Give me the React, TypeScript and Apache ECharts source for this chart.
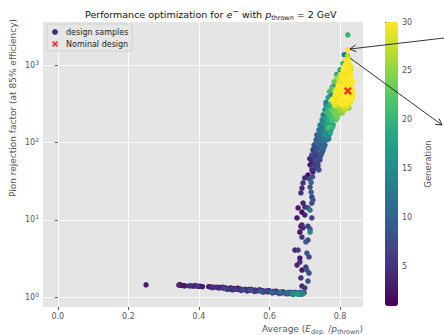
import React, { useEffect, useRef } from "react";
import * as echarts from "echarts";

// ---- data (x = average E_dep/p_thrown, y = pion rejection factor, gen = generation) ----
const tailPts: number[][] = [
  [0.25, 1.45, 3],
  [0.343, 1.44, 4], [0.348, 1.43, 2], [0.355, 1.42, 3], [0.372, 1.41, 5], [0.378, 1.41, 4], [0.385, 1.4, 3], [0.396, 1.39, 6], [0.402, 1.39, 2],
  [0.428, 1.37, 2], [0.434, 1.36, 4], [0.442, 1.35, 4], [0.45, 1.35, 5], [0.458, 1.34, 3], [0.463, 1.33, 2], [0.47, 1.31, 7], [0.474, 1.33, 4],
  [0.478, 1.3, 4], [0.485, 1.29, 2], [0.489, 1.32, 3], [0.492, 1.28, 5], [0.498, 1.3, 2], [0.503, 1.27, 6], [0.508, 1.29, 3], [0.513, 1.26, 4],
  [0.518, 1.28, 5], [0.524, 1.25, 7], [0.53, 1.27, 4], [0.534, 1.24, 5], [0.54, 1.26, 3], [0.545, 1.23, 8], [0.55, 1.25, 6], [0.555, 1.22, 4],
  [0.56, 1.24, 3], [0.565, 1.21, 6], [0.57, 1.23, 5], [0.575, 1.2, 9], [0.58, 1.22, 4], [0.585, 1.19, 7], [0.59, 1.21, 5], [0.595, 1.18, 4],
  [0.6, 1.2, 7], [0.605, 1.17, 10], [0.61, 1.19, 6], [0.615, 1.16, 8], [0.62, 1.18, 4], [0.625, 1.15, 5], [0.63, 1.17, 11], [0.635, 1.14, 7],
  [0.64, 1.16, 6], [0.645, 1.13, 9], [0.65, 1.15, 12], [0.655, 1.12, 6], [0.66, 1.14, 10], [0.664, 1.12, 14], [0.668, 1.15, 8], [0.672, 1.11, 15],
  [0.676, 1.13, 13], [0.68, 1.11, 16], [0.684, 1.14, 9], [0.688, 1.12, 11], [0.692, 1.14, 12], [0.695, 1.11, 14], [0.698, 1.15, 7],
  [0.346, 1.46, 3], [0.36, 1.41, 2], [0.39, 1.42, 4], [0.41, 1.37, 3], [0.438, 1.33, 5], [0.455, 1.32, 4], [0.467, 1.35, 3], [0.48, 1.27, 6],
  [0.495, 1.25, 3], [0.51, 1.31, 2], [0.52, 1.23, 5], [0.537, 1.21, 4], [0.548, 1.27, 2], [0.558, 1.19, 6], [0.572, 1.25, 3], [0.582, 1.17, 5],
  [0.598, 1.22, 4], [0.608, 1.14, 7], [0.618, 1.2, 3], [0.628, 1.12, 9], [0.638, 1.18, 5], [0.648, 1.11, 8], [0.658, 1.16, 4], [0.666, 1.09, 12],
  [0.674, 1.16, 6], [0.682, 1.09, 14], [0.69, 1.1, 13], [0.686, 1.16, 10],
];

const stemPts: number[][] = [
  [0.7, 1.32, 6], [0.692, 1.4, 4], [0.709, 1.62, 8], [0.689, 1.78, 5], [0.712, 2.06, 7], [0.692, 2.25, 3], [0.706, 2.25, 9], [0.703, 2.46, 6],
  [0.678, 2.61, 4], [0.686, 2.86, 5], [0.686, 3.22, 3], [0.712, 3.32, 7], [0.706, 3.73, 8], [0.681, 4.08, 6], [0.672, 4.08, 4], [0.703, 5.2, 9],
  [0.709, 5.5, 7], [0.692, 6.0, 5], [0.686, 6.98, 3], [0.715, 6.98, 14], [0.715, 7.6, 8], [0.689, 8.3, 2], [0.709, 8.3, 6], [0.695, 7.9, 4],
  [0.692, 8.6, 5], [0.72, 10.6, 7], [0.678, 10.6, 3], [0.7, 11.6, 4], [0.692, 12.6, 2], [0.715, 13.4, 13], [0.709, 14.3, 8], [0.681, 14.3, 3],
  [0.7, 14.7, 5], [0.695, 16.5, 4], [0.72, 16.5, 7], [0.723, 18.1, 9], [0.72, 19.8, 6], [0.718, 22.9, 10], [0.689, 22.3, 5], [0.715, 26.6, 8],
  [0.692, 25.8, 4], [0.695, 30, 5], [0.7, 34.8, 4], [0.709, 38, 2], [0.718, 30.5, 11], [0.713, 34, 7], [0.722, 36, 9],
];

const columnPts: number[][] = [
  [0.72, 44.3, 5], [0.737, 49.7, 7], [0.723, 41.6, 3], [0.732, 46.8, 6], [0.74, 44.3, 8],
  [0.715, 51.4, 3], [0.726, 51.4, 6], [0.737, 51.4, 5],
  [0.718, 59.7, 4], [0.729, 59.7, 8], [0.743, 59.7, 6], [0.723, 56, 2], [0.737, 56, 7],
  [0.72, 69, 7], [0.732, 69, 5], [0.746, 69, 9], [0.726, 63, 4], [0.743, 65, 8],
  [0.723, 80.4, 6], [0.735, 80.4, 9], [0.752, 80.4, 8], [0.729, 75, 7], [0.746, 86, 10],
  [0.726, 92.7, 8], [0.74, 92.7, 10], [0.757, 92.7, 7], [0.734, 98, 11], [0.749, 100, 9],
  [0.732, 108, 9], [0.746, 108, 11], [0.763, 108, 12], [0.74, 116, 10], [0.754, 116, 13],
  [0.734, 125, 10], [0.749, 125, 13], [0.768, 125, 12], [0.743, 135, 12], [0.76, 135, 14],
  [0.74, 145, 12], [0.754, 145, 14], [0.774, 145, 16], [0.766, 154, 21], [0.749, 156, 11],
  [0.743, 168, 13], [0.76, 168, 17], [0.78, 168, 15], [0.771, 180, 18], [0.752, 184, 12],
  [0.749, 196, 14], [0.766, 196, 19], [0.788, 196, 22], [0.76, 210, 17], [0.78, 207, 22],
  [0.752, 227, 13], [0.771, 227, 21], [0.794, 227, 24], [0.763, 245, 20], [0.788, 248, 24],
  [0.757, 264, 16], [0.777, 264, 23], [0.8, 264, 26], [0.814, 264, 27],
  [0.76, 305, 15], [0.783, 305, 25], [0.805, 305, 28], [0.822, 305, 29], [0.771, 285, 19], [0.794, 290, 26], [0.825, 279, 24], [0.814, 270, 27],
  [0.729, 54, 5], [0.741, 62, 7], [0.714, 62, 4], [0.735, 72, 6], [0.749, 74, 9], [0.728, 86, 7], [0.741, 84, 8], [0.755, 88, 11],
  [0.733, 102, 9], [0.752, 104, 12], [0.768, 112, 14], [0.737, 120, 11], [0.756, 128, 15], [0.772, 132, 18], [0.745, 140, 12], [0.762, 150, 16],
  [0.779, 158, 20], [0.756, 176, 15], [0.776, 190, 21], [0.793, 210, 24], [0.757, 200, 16], [0.772, 215, 20], [0.783, 238, 23], [0.768, 256, 21],
  [0.806, 240, 25], [0.79, 275, 24], [0.805, 282, 26], [0.82, 290, 28], [0.764, 290, 18], [0.775, 320, 20],
];

const tipPts: number[][] = [
  [0.76, 330, 13], [0.766, 380, 18], [0.774, 420, 12], [0.777, 500, 22], [0.786, 570, 14], [0.791, 690, 25], [0.8, 869, 17], [0.808, 1050, 20], [0.812, 1360, 13],
  [0.77, 455, 21], [0.778, 520, 16], [0.783, 610, 23], [0.79, 760, 19],
  [0.786, 305, 29], [0.805, 305, 30], [0.822, 305, 28],
  [0.777, 355, 30], [0.794, 355, 29], [0.811, 355, 30], [0.828, 355, 30],
  [0.786, 411, 30], [0.8, 411, 28], [0.816, 411, 30], [0.831, 411, 29],
  [0.788, 479, 29], [0.805, 479, 30], [0.822, 479, 30], [0.834, 479, 30],
  [0.794, 553, 30], [0.811, 553, 30], [0.828, 553, 29],
  [0.797, 645, 28], [0.814, 645, 30], [0.831, 645, 30],
  [0.802, 745, 30], [0.819, 745, 29], [0.831, 745, 30],
  [0.808, 869, 30], [0.822, 869, 30], [0.831, 869, 29],
  [0.814, 1000, 30], [0.828, 1000, 30],
  [0.816, 1170, 29], [0.825, 1170, 30],
  [0.781, 330, 29], [0.797, 330, 30], [0.814, 330, 30], [0.83, 330, 29], [0.785, 380, 28], [0.803, 380, 30], [0.82, 380, 30], [0.835, 380, 30],
  [0.792, 445, 30], [0.808, 445, 30], [0.825, 445, 29], [0.838, 445, 30], [0.797, 515, 30], [0.815, 515, 30], [0.832, 515, 30],
  [0.802, 600, 29], [0.82, 600, 30], [0.835, 600, 30], [0.806, 695, 30], [0.823, 695, 30], [0.81, 805, 29], [0.826, 805, 30],
  [0.818, 935, 30], [0.82, 1090, 30], [0.83, 930, 28],
  [0.822, 1320, 27],
  [0.822, 1580, 30],
  [0.822, 2460, 20],
];

const nominalPt: number[] = [0.822, 463];

const xTicks = [0, 0.2, 0.4, 0.6, 0.8];
const yTicks = [1, 10, 100, 1000];
const genTicks = [5, 10, 15, 20, 25, 30];

const viridis = [
  "#440154", "#482475", "#414487", "#355f8d", "#2a788e", "#21918c",
  "#22a884", "#44bf70", "#7ad151", "#bddf26", "#fde725",
];

const FONT = "DejaVu Sans";
const GREY = "#555555";
const X_ICON = "path://M0,2 L2,0 L5,3 L8,0 L10,2 L7,5 L10,8 L8,10 L5,7 L2,10 L0,8 L3,5 Z";

export default function App() {
  const ref = useRef<HTMLDivElement>(null);

  useEffect(() => {
    if (!ref.current) return;
    const chart = echarts.init(ref.current, null, { renderer: "svg" });
    const samples = [...tailPts, ...stemPts, ...columnPts, ...tipPts].sort((a, b) => a[2] - b[2]);

    const option: any = {
      animation: false,
      backgroundColor: "#ffffff",
      textStyle: { fontFamily: FONT },
      title: {
        text: "Performance optimization for {i|e}{sup|−} with {i|p}{sub|thrown} = 2 GeV",
        left: 80,
        top: 2,
        textStyle: {
          fontFamily: FONT,
          fontSize: 9.5,
          fontWeight: "normal",
          color: "#111",
          lineHeight: 14,
          rich: {
            i: { fontFamily: FONT, fontSize: 9.5, fontStyle: "italic", color: "#111", lineHeight: 14 },
            sup: { fontFamily: FONT, fontSize: 8, color: "#111", verticalAlign: "top", lineHeight: 14 },
            sub: { fontFamily: FONT, fontSize: 6.5, color: "#111", verticalAlign: "bottom", lineHeight: 14 },
          },
        },
      },
      legend: {
        left: 47,
        top: 24,
        orient: "vertical",
        itemWidth: 12,
        itemHeight: 6,
        itemGap: 4,
        padding: [4, 4, 3, 5],
        backgroundColor: "rgba(229,229,229,0.9)",
        borderColor: "#cccccc",
        borderWidth: 0.8,
        borderRadius: 2,
        textStyle: { fontFamily: FONT, fontSize: 8, color: "#222" },
        data: [
          { name: "design samples", icon: "circle", itemStyle: { color: "#46327e" } },
          { name: "Nominal design", icon: X_ICON, itemStyle: { color: "#ff0000" } },
        ],
      },
      grid: [
        { left: 43, top: 22, width: 320, height: 285, backgroundColor: "#e5e5e5", show: true, borderWidth: 0 },
        { left: 385, top: 22, width: 13, height: 284, show: false },
      ],
      xAxis: [
        {
          type: "value",
          gridIndex: 0,
          min: -0.042,
          max: 0.865,
          axisLine: { show: false },
          axisTick: { show: true, length: 3, lineStyle: { color: GREY }, customValues: xTicks },
          axisLabel: {
            customValues: xTicks,
            formatter: (v: number) => v.toFixed(1),
            color: GREY,
            fontSize: 8,
            fontFamily: FONT,
            margin: 5,
          },
          splitLine: { show: true, lineStyle: { color: "#ffffff", width: 1 } },
        },
        { type: "value", gridIndex: 1, min: 0, max: 1, show: false },
      ],
      yAxis: [
        {
          type: "log",
          logBase: 10,
          gridIndex: 0,
          min: 0.75,
          max: 3600,
          axisLine: { show: false },
          axisTick: { show: true, length: 3, lineStyle: { color: GREY }, customValues: yTicks },
          axisLabel: {
            customValues: yTicks,
            formatter: (v: number) => `{b|10}{e|${Math.round(Math.log10(v))}}`,
            color: GREY,
            margin: 4,
            rich: {
              b: { fontFamily: FONT, fontSize: 8, color: GREY, lineHeight: 12 },
              e: { fontFamily: FONT, fontSize: 6, color: GREY, verticalAlign: "top", lineHeight: 12 },
            },
          },
          splitLine: { show: true, lineStyle: { color: "#ffffff", width: 1 } },
        },
        {
          type: "value",
          gridIndex: 1,
          position: "right",
          min: 1,
          max: 30,
          axisLine: { show: false },
          axisTick: { show: true, length: 3, lineStyle: { color: GREY }, customValues: genTicks },
          axisLabel: { customValues: genTicks, color: GREY, fontSize: 8, fontFamily: FONT, margin: 4 },
          splitLine: { show: false },
          name: "Generation",
          nameLocation: "middle",
          nameGap: 25,
          nameTextStyle: { color: GREY, fontSize: 8.5, fontFamily: FONT },
        },
      ],
      visualMap: {
        type: "continuous",
        min: 1,
        max: 30,
        dimension: 2,
        seriesIndex: 0,
        left: 385,
        top: 22,
        itemWidth: 13,
        itemHeight: 284,
        padding: 0,
        calculable: false,
        hoverLink: false,
        text: null,
        inRange: { color: viridis },
      },
      series: [
        {
          name: "design samples",
          type: "scatter",
          xAxisIndex: 0,
          yAxisIndex: 0,
          symbol: "circle",
          symbolSize: 5.5,
          itemStyle: { color: "#46327e", opacity: 1 },
          data: samples,
          z: 3,
        },
        {
          name: "Nominal design",
          type: "scatter",
          xAxisIndex: 0,
          yAxisIndex: 0,
          symbol: X_ICON,
          symbolSize: 8,
          itemStyle: { color: "#ff0000" },
          data: [nominalPt],
          z: 5,
        },
      ],
      graphic: [
        {
          type: "text",
          x: 13,
          y: 108,
          rotation: Math.PI / 2,
          style: {
            text: "Pion rejection factor (at 85% efficiency)",
            fontFamily: FONT,
            fontSize: 9,
            fill: GREY,
            align: "center",
            verticalAlign: "middle",
          },
        },
        {
          type: "text",
          x: 363,
          y: 329,
          style: {
            text: "Average ({i|E}{s|dep.} /{i|p}{s|thrown})",
            fontFamily: FONT,
            fontSize: 9,
            fill: GREY,
            align: "right",
            verticalAlign: "middle",
            rich: {
              i: { fontFamily: FONT, fontSize: 9, fontStyle: "italic", fill: GREY, lineHeight: 13 },
              s: { fontFamily: FONT, fontSize: 6.5, fill: GREY, verticalAlign: "bottom", lineHeight: 13 },
            },
          },
        },
        { type: "line", shape: { x1: 444, y1: 38, x2: 350, y2: 49 }, style: { stroke: "#000", lineWidth: 0.8 }, z: 10 },
        { type: "polyline", shape: { points: [[356.4, 51.8], [350, 49], [355.6, 44.8]] }, style: { stroke: "#000", fill: null, lineWidth: 0.8 }, z: 10 },
        { type: "line", shape: { x1: 350, y1: 58, x2: 442, y2: 125 }, style: { stroke: "#000", lineWidth: 0.8 }, z: 10 },
        { type: "polyline", shape: { points: [[439.1, 118.6], [442, 125], [435, 124.3]] }, style: { stroke: "#000", fill: null, lineWidth: 0.8 }, z: 10 },
      ],
    };

    chart.setOption(option);
    return () => chart.dispose();
  }, []);

  return <div ref={ref} style={{ width: 444, height: 335, position: "absolute", left: 0, top: 0 }} />;
}
